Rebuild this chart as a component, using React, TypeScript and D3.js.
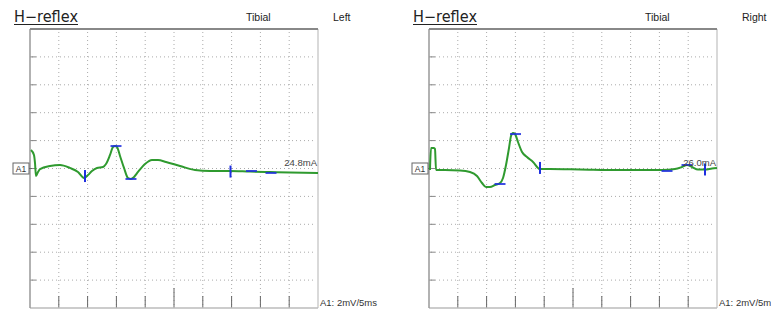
import React from 'react';
import * as d3 from 'd3';

// trace samples, ms / mV (5 ms and 2 mV per division)
const leftTimes = [0.17, 0.69, 0.87, 1.04, 1.39, 1.74, 3.47, 5.21, 6.94, 8.33, 9.38, 10.07, 10.76, 11.63, 12.67, 13.19, 13.89, 14.41, 14.76, 15.1, 15.63, 16.32, 17.01, 17.53, 18.06, 18.75, 19.96, 21.18, 22.22, 23.61, 26.04, 28.65, 31.25, 34.72, 38.19, 41.67, 45.14, 50];
const leftValues = [1.33, 0.97, 0.39, -0.54, -0.25, -0.04, 0.18, 0.25, 0.04, -0.25, -0.68, -0.47, -0.18, 0.04, 0.11, 0.32, 0.97, 1.54, 1.61, 1.54, 0.9, 0.04, -0.68, -0.75, -0.61, -0.25, 0.32, 0.61, 0.61, 0.47, 0.18, -0.11, -0.18, -0.18, -0.22, -0.25, -0.29, -0.32];

const rightTimes = [0.17, 0.35, 0.87, 1.04, 1.22, 2.78, 5.38, 7.12, 8.33, 9.2, 9.9, 10.59, 11.46, 12.33, 12.85, 13.37, 13.89, 14.24, 14.58, 14.93, 15.45, 16.15, 17.01, 18.06, 19.27, 21.0, 26.2, 33.16, 40.45, 42.7, 43.92, 44.79, 45.66, 46.7, 47.92, 49.13, 50];
const rightValues = [-0.11, 1.47, 1.47, 1.4, -0.11, -0.11, -0.14, -0.25, -0.54, -1.04, -1.33, -1.33, -1.18, -1.04, -0.68, 0.25, 1.47, 2.33, 2.55, 2.47, 1.9, 1.18, 0.82, 0.47, -0.04, -0.04, -0.07, -0.11, -0.11, -0.04, 0.11, 0.25, 0.11, -0.07, -0.07, 0, 0.04];

// cursor markers: kind (v = vertical, h = horizontal), time, value
const leftMarkKind = ['v', 'h', 'h', 'v', 'h', 'h'];
const leftMarkTime = [9.55, 14.93, 17.53, 34.81, 38.45, 41.84];
const leftMarkValue = [-0.54, 1.61, -0.75, -0.22, -0.18, -0.32];

const rightMarkKind = ['h', 'h', 'v', 'h', 'h', 'v'];
const rightMarkTime = [12.33, 15.02, 19.27, 41.32, 44.79, 47.92];
const rightMarkValue = [-1.11, 2.47, 0.04, -0.18, 0.25, -0.07];

const sides = ['Left', 'Right'];
const nerve = 'Tibial';
const intensities = ['24.8mA', '26.0mA'];
const scaleLabel = 'A1: 2mV/5ms';

const W = 771;
const H = 311;
const frameW = 288;
const frameTop = 29;
const frameBottom = 308;
const traceColor = '#2f9a2f';
const markColor = '#1f2fe0';

type PanelProps = {
  x0: number;
  times: number[];
  values: number[];
  kinds: string[];
  mTimes: number[];
  mValues: number[];
  side: string;
  intensity: string;
  rightMode: boolean;
};

function Panel({ x0, times, values, kinds, mTimes, mValues, side, intensity, rightMode }: PanelProps) {
  const x = d3.scaleLinear().domain([0, 50]).range([x0, x0 + frameW]);
  const y = d3.scaleLinear().domain([-10, 10]).range([frameBottom, frameTop]);
  const xTicks = d3.range(5, 50, 5);
  const yTicks = d3.range(-8, 10, 2);
  const pts = times.map((t, i) => [t, values[i]] as [number, number]);
  const line = d3
    .line<[number, number]>()
    .x((d) => x(d[0]))
    .y((d) => y(d[1]))
    .curve(d3.curveMonotoneX);
  const titleX = x0 - 16;
  return (
    <g>
      <text x={titleX} y={22} fontFamily="DejaVu Sans, sans-serif" fontSize={15} textLength={64} lengthAdjust="spacingAndGlyphs" fill="#222">
        H−reflex
      </text>
      <line x1={titleX} x2={titleX + 64} y1={24.5} y2={24.5} stroke="#222" strokeWidth={1.2} />
      <text x={x0 + 216} y={21} fontFamily="Liberation Sans, Arial, sans-serif" fontSize={10.5} fill="#222">
        {nerve}
      </text>
      <text x={x0 + (rightMode ? 313 : 303)} y={21} fontFamily="Liberation Sans, Arial, sans-serif" fontSize={10.5} fill="#222">
        {side}
      </text>

      {/* grid */}
      {xTicks.map((t) => (
        <line key={'gx' + t} x1={x(t)} x2={x(t)} y1={frameTop + 3} y2={frameBottom - 2} stroke="#aaa" strokeWidth={1} strokeDasharray="1 3" />
      ))}
      {yTicks.map((t) => (
        <line key={'gy' + t} x1={x0 + 2} x2={x0 + frameW - 2} y1={y(t)} y2={y(t)} stroke="#aaa" strokeWidth={1} strokeDasharray="1 3" />
      ))}
      {yTicks.map((t) => (
        <line key={'ty' + t} x1={x0} x2={x0 + 6} y1={y(t)} y2={y(t)} stroke="#888" strokeWidth={1} />
      ))}
      {xTicks.map((t) => (
        <line key={'tx' + t} x1={x(t)} x2={x(t)} y1={t === 25 ? frameBottom - 20 : frameBottom - 12} y2={frameBottom} stroke="#666" strokeWidth={1} />
      ))}

      {/* frame */}
      <line x1={x0 + frameW} x2={x0 + frameW} y1={frameTop} y2={frameBottom} stroke="#ccc" strokeWidth={1.5} />
      <line x1={x0} x2={x0 + frameW} y1={frameBottom} y2={frameBottom} stroke="#bbb" strokeWidth={1.5} />
      <line x1={x0} x2={x0} y1={frameTop} y2={frameBottom} stroke="#999" strokeWidth={1.5} />
      <line x1={x0} x2={x0 + frameW} y1={frameTop} y2={frameTop} stroke="#888" strokeWidth={2} />

      {/* channel tag */}
      <rect x={x0 - 17} y={y(0) - 5.5} width={16} height={11} fill="#fff" stroke="#666" strokeWidth={1} />
      <text x={x0 - 9} y={y(0) + 3} textAnchor="middle" fontFamily="Liberation Sans, Arial, sans-serif" fontSize={8.5} fill="#333">
        A1
      </text>
      <line x1={x0 - 1} x2={x0 + 2} y1={y(0)} y2={y(0)} stroke="#666" />

      <path d={line(pts) ?? ''} fill="none" stroke={traceColor} strokeWidth={2} strokeLinejoin="round" />

      {kinds.map((k, i) =>
        k === 'v' ? (
          <line key={'m' + i} x1={x(mTimes[i])} x2={x(mTimes[i])} y1={y(mValues[i]) - 6} y2={y(mValues[i]) + 6} stroke={markColor} strokeWidth={2} />
        ) : (
          <line key={'m' + i} x1={x(mTimes[i]) - 5.5} x2={x(mTimes[i]) + 5.5} y1={y(mValues[i])} y2={y(mValues[i])} stroke={markColor} strokeWidth={2} opacity={0.85} />
        )
      )}

      <text x={x0 + frameW - 1} y={166} textAnchor="end" fontFamily="Liberation Sans, Arial, sans-serif" fontSize={9.5} fill="#444">
        {intensity}
      </text>
      <text x={x0 + frameW + 2} y={306} fontFamily="Liberation Sans, Arial, sans-serif" fontSize={9.5} fill="#333">
        {scaleLabel}
      </text>
    </g>
  );
}

export default function App() {
  return (
    <svg width={W} height={H} style={{ position: 'fixed', left: 0, top: 0, background: '#fff' }}>
      <rect width={W} height={H} fill="#fff" />
      <Panel x0={30} times={leftTimes} values={leftValues} kinds={leftMarkKind} mTimes={leftMarkTime} mValues={leftMarkValue} side={sides[0]} intensity={intensities[0]} rightMode={false} />
      <Panel x0={429} times={rightTimes} values={rightValues} kinds={rightMarkKind} mTimes={rightMarkTime} mValues={rightMarkValue} side={sides[1]} intensity={intensities[1]} rightMode={true} />
    </svg>
  );
}
